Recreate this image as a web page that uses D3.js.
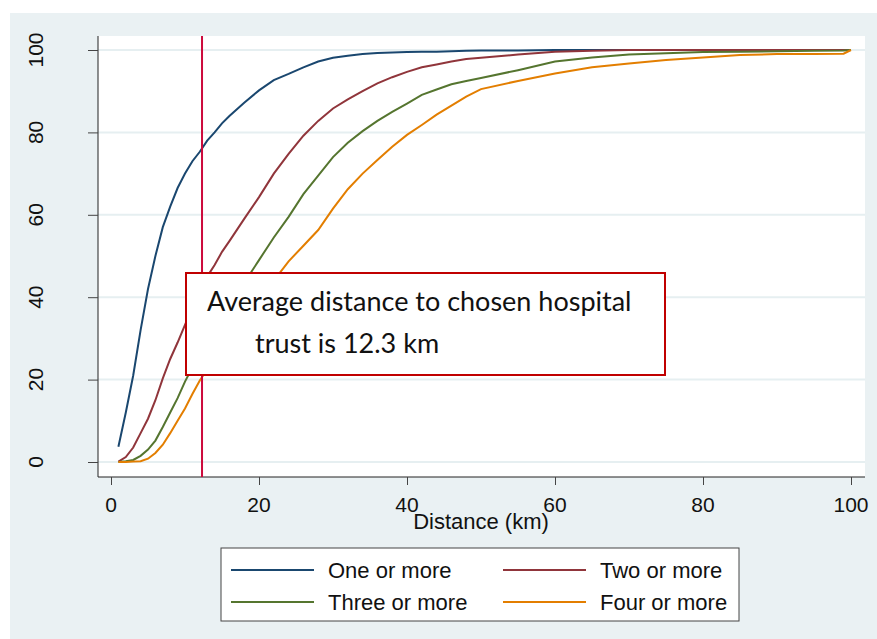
<!DOCTYPE html>
<html>
<head>
<meta charset="utf-8">
<script src="https://d3js.org/d3.v7.min.js"></script>
<style>
  body { margin: 0; background: #fff; }
  svg text { font-family: "Liberation Sans", Arial, sans-serif; fill: #111; }
  .note { font-family: Lato, "Open Sans", sans-serif; }
</style>
</head>
<body>
<div id="container"></div>
<script>

// distance (km) where the cumulative share was read
var distance = [1,2,3,4,5,6,7,8,9,10,11,12,13,14,15,16,18,20,22,24,26,28,30,32,34,36,38,40,42,44,46,48,50,55,60,65,70,75,80,85,90,95,99,100];

// cumulative % of patients, by number of trusts within reach
var oneOrMore   = [3.7,12,21,32,42,50,57,62,66.5,70,73,75.3,78,80,82.2,84,87.2,90.2,92.7,94.2,95.8,97.2,98.1,98.6,99.0,99.3,99.4,99.5,99.6,99.6,99.7,99.8,99.9,99.9,100,100,100,100,100,100,100,100,100,100];
var twoOrMore   = [0.1,1.2,3.5,7,10.5,15,20.3,25,29,33.3,37.5,41.5,45,47.8,51,53.6,59,64.3,70,74.8,79.2,82.8,85.8,88,90,91.9,93.4,94.7,95.8,96.5,97.2,97.8,98.1,98.9,99.6,99.8,100,100,100,100,100,100,100,100];
var threeOrMore = [0,0.2,0.5,1.5,3,5.2,8.5,12,15.5,19.5,23,27,30,33,36,38.8,43.5,49,54.5,59.5,65,69.5,74,77.5,80.3,82.8,85,87,89.1,90.4,91.7,92.5,93.2,95.1,97.2,98.2,98.9,99.2,99.5,99.6,99.7,99.8,99.9,100];
var fourOrMore  = [0,0,0.1,0.2,0.8,2.2,4.2,7,10,13,16.5,19.8,22.5,24.8,27.2,29.5,34.5,39.5,44,48.7,52.5,56.3,61.5,66.2,70,73.3,76.5,79.4,81.8,84.3,86.5,88.7,90.5,92.5,94.3,95.8,96.7,97.6,98.2,98.8,99.0,99.0,99.1,100];

var seriesNames  = ["One or more", "Two or more", "Three or more", "Four or more"];
var seriesColors = ["#1a476f", "#90353b", "#55752f", "#e37e00"];
var seriesValues = [oneOrMore, twoOrMore, threeOrMore, fourOrMore];

var xTicks = [0, 20, 40, 60, 80, 100];
var yTicks = [0, 20, 40, 60, 80, 100];
var averageDistance = 12.3;
var noteLines = ["Average distance to chosen hospital", "trust is 12.3 km"];

var W = 877, H = 639;
var svg = d3.select("#container").append("svg")
    .attr("width", W).attr("height", H);

// outer graph region + plot region
svg.append("rect").attr("x", 10).attr("y", 13).attr("width", W - 10).attr("height", H - 13)
    .attr("fill", "#eaf1f3");
svg.append("rect").attr("x", 98).attr("y", 36).attr("width", 767).attr("height", 441)
    .attr("fill", "#fff");

var x = d3.scaleLinear().domain([0, 100]).range([111, 851]);
var y = d3.scaleLinear().domain([0, 100]).range([462, 50]);

// grid
svg.append("g").selectAll("line").data(yTicks).enter().append("line")
    .attr("x1", 98).attr("x2", 865)
    .attr("y1", function(d){ return y(d); }).attr("y2", function(d){ return y(d); })
    .attr("stroke", "#e6eff1").attr("stroke-width", 2);

// axes
var yAxis = svg.append("g").attr("transform", "translate(98,0)")
    .call(d3.axisLeft(y).tickValues(yTicks).tickSize(10).tickFormat(""));
yAxis.select(".domain").attr("d", "M0,36V477").attr("stroke", "#222");
yAxis.selectAll(".tick line").attr("stroke", "#444");

var xAxis = svg.append("g").attr("transform", "translate(0,477)")
    .call(d3.axisBottom(x).tickValues(xTicks).tickSize(8).tickFormat(""));
xAxis.select(".domain").attr("d", "M98,0H865").attr("stroke", "#222");
xAxis.selectAll(".tick line").attr("stroke", "#444");

// tick labels
svg.append("g").selectAll("text").data(yTicks).enter().append("text")
    .attr("transform", function(d){ return "translate(43," + y(d) + ") rotate(-90)"; })
    .attr("text-anchor", "middle")
    .style("font-size", "21px")
    .text(function(d){ return d; });

svg.append("g").selectAll("text").data(xTicks).enter().append("text")
    .attr("x", function(d){ return x(d); }).attr("y", 512)
    .attr("text-anchor", "middle")
    .style("font-size", "21px")
    .text(function(d){ return d; });

svg.append("text").attr("x", 481).attr("y", 529)
    .attr("text-anchor", "middle").style("font-size", "22px")
    .text("Distance (km)");

// series
var line = d3.line()
    .x(function(d, i){ return x(distance[i]); })
    .y(function(d){ return y(d); });

svg.append("g").selectAll("path").data(seriesValues).enter().append("path")
    .attr("d", line)
    .attr("fill", "none")
    .attr("stroke", function(d, i){ return seriesColors[i]; })
    .attr("stroke-width", 2);

// average distance marker
svg.append("line")
    .attr("x1", x(averageDistance)).attr("x2", x(averageDistance))
    .attr("y1", 36).attr("y2", 477)
    .attr("stroke", "#cc0a3c").attr("stroke-width", 2);

// note box
svg.append("rect").attr("x", 186).attr("y", 273).attr("width", 479).attr("height", 102)
    .attr("fill", "#fff").attr("stroke", "#c00000").attr("stroke-width", 2);
svg.append("text").attr("class", "note").attr("x", 207).attr("y", 311)
    .style("font-size", "27px").text(noteLines[0]);
svg.append("text").attr("class", "note").attr("x", 255).attr("y", 353)
    .style("font-size", "27px").text(noteLines[1]);

// legend
svg.append("rect").attr("x", 221).attr("y", 548).attr("width", 518).attr("height", 73)
    .attr("fill", "#fff").attr("stroke", "#444").attr("stroke-width", 1);

var legendPos = [[231, 570], [503, 570], [231, 602], [503, 602]];
var lg = svg.append("g").selectAll("g").data(seriesNames).enter().append("g")
    .attr("transform", function(d, i){ return "translate(" + legendPos[i][0] + "," + legendPos[i][1] + ")"; });
lg.append("line").attr("x1", 0).attr("x2", 83)
    .attr("stroke", function(d, i){ return seriesColors[i]; }).attr("stroke-width", 2);
lg.append("text").attr("x", 97).attr("y", 8)
    .style("font-size", "22px").text(function(d){ return d; });

</script>
</body>
</html>
